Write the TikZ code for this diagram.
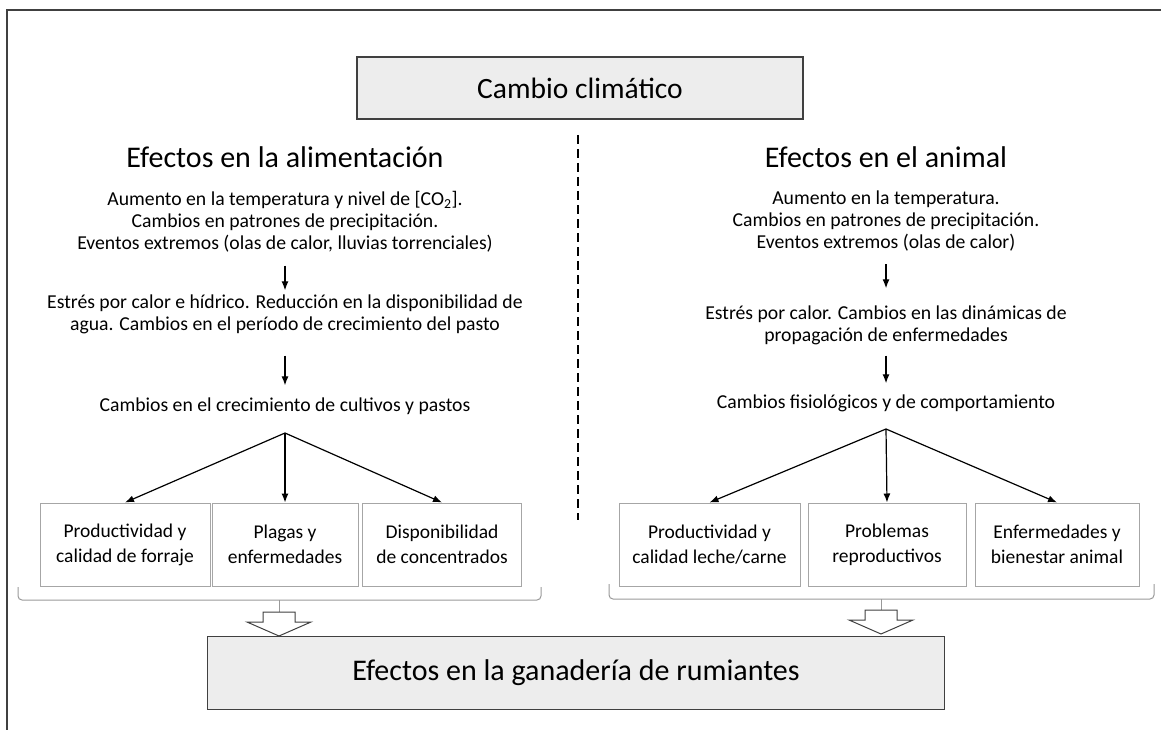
\documentclass[tikz,border=0pt]{standalone}
\usepackage{fontspec}
\setmainfont{Carlito}
\usetikzlibrary{arrows.meta}
\begin{document}
\begin{tikzpicture}[x=1pt,y=-1pt]
    \def\xA{285}
    \def\xB{886}

    \tikzstyle{frame}=[draw=black!75,line width=1.2pt]
    \tikzstyle{bigbox}=[draw=black!75,fill=black!7,line width=1.2pt,align=center]
    \tikzstyle{head}=[font=\fontsize{30}{34}\selectfont,align=center]
    \tikzstyle{txt}=[font=\fontsize{19.7}{22}\selectfont,align=center,inner sep=0pt]
    \tikzstyle{effect}=[draw=black!35,line width=1pt,font=\fontsize{19.5}{25}\selectfont,align=center,inner sep=0pt]
    \tikzstyle{brace}=[draw=black!40,line width=1pt,rounded corners=4pt]
    \tikzstyle{hollow}=[draw=black!75,fill=white,line width=1pt]

    \useasboundingbox (0,0) rectangle (1161,730);
    \draw[frame] (1161,10) -- (7,10) -- (7,730);

    \node[bigbox,minimum width=446,minimum height=62,font=\fontsize{29.5}{32}\selectfont] (cc) at (580,88) {Cambio climático};
    \node[bigbox,minimum width=737,minimum height=73,font=\fontsize{30}{34}\selectfont] (gr) at (576,673) {Efectos en la ganadería de rumiantes};

    \draw[line width=2pt,dash pattern=on 9pt off 5pt] (578,135) -- (578,520);

    % alimentacion
    \node[head] (hA) at (\xA,157) {Efectos en la alimentación};
    \node[txt]  (a1) at (\xA,222) {Aumento\ en la temperatura y nivel de [CO\textsubscript{2}].\\Cambios en patrones de precipitación.\\Eventos extremos\ (olas de calor, lluvias torrenciales)};
    \node[txt]  (a2) at (\xA,314) {Estrés por calor e hídrico. Reducción en la disponibilidad de\\agua. Cambios en el período de crecimiento del pasto};
    \node[txt]  (a3) at (\xA,406) {Cambios en el crecimiento de cultivos y pastos};
    \coordinate (aS) at (\xA,433);

    \node[effect,minimum width=170,minimum height=83] (pA1) at (125,544.5) {Productividad y\\calidad de forraje};
    \node[effect,minimum width=146,minimum height=83] (pA2) at (285,544.5) {Plagas y\\enfermedades};
    \node[effect,minimum width=159,minimum height=83] (pA3) at (442,544.5) {Disponibilidad\\de concentrados};

    % animal
    \node[head] (hB) at (\xB,157) {Efectos en el animal};
    \node[txt]  (b1) at (\xB,221) {Aumento\ en la temperatura.\\Cambios en patrones de precipitación.\\Eventos extremos\ (olas de calor)};
    \node[txt]  (b2) at (\xB,325) {Estrés por calor. Cambios en las dinámicas de\\propagación de enfermedades};
    \node[txt]  (b3) at (\xB,403) {Cambios fisiológicos y de comportamiento};
    \coordinate (bS) at (\xB,429);

    \node[effect,minimum width=181,minimum height=83] (pB1) at (709.5,544.5) {Productividad y\\calidad leche/carne};
    \node[effect,minimum width=158,minimum height=83] (pB2) at (887,544.5) {Problemas\\reproductivos};
    \node[effect,minimum width=164,minimum height=83] (pB3) at (1057,544.5) {Enfermedades y\\bienestar animal};

    \pgfsetarrowsend{Latex[length=9pt,width=7pt]}
    \tikzstyle{fwd} = [draw=black, line width=1.2pt]

          \draw [fwd,shorten <=13pt,shorten >=4pt] (a1) -- (a2);
          \draw [fwd,shorten <=22pt,shorten >=12pt] (a2) -- (a3);
          \draw [fwd] (aS) -- (pA1.north);
          \draw [fwd] (aS) -- (pA2.north);
          \draw [fwd] (aS) -- (pA3.north);

          \draw [fwd,shorten <=13pt,shorten >=17pt] (b1) -- (b2);
          \draw [fwd,shorten <=11pt,shorten >=11pt] (b2) -- (b3);
          \draw [fwd] (bS) -- (pB1.north);
          \draw [fwd] (bS) -- (pB2.north);
          \draw [fwd] (bS) -- (pB3.north);

    \pgfsetarrowsend{}
    % brackets and hollow arrows
    \draw[brace] (18,587) -- (18,600) -- (541,600) -- (541,587);
    \draw[brace,rounded corners=0pt] (279,600) -- (279,612);
    \draw[hollow] (263,612) -- (295,612) -- (295,622) -- (311,622) -- (279,636) -- (247,622) -- (263,622) -- cycle;

    \draw[brace] (609,584) -- (609,599) -- (1154,599) -- (1154,584);
    \draw[brace,rounded corners=0pt] (881,599) -- (881,610);
    \draw[hollow] (865,610) -- (897,610) -- (897,620) -- (913,620) -- (881,634) -- (849,620) -- (865,620) -- cycle;
\end{tikzpicture}
\end{document}
